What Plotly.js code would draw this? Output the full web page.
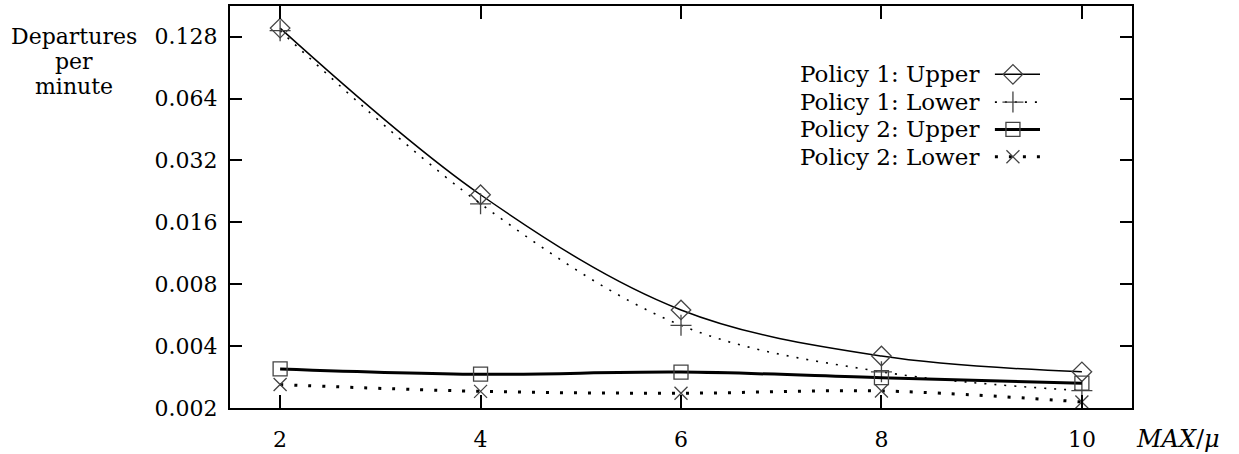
<!DOCTYPE html>
<html>
<head>
<meta charset="utf-8">
<script src="https://cdn.plot.ly/plotly-3.0.1.min.js"></script>
<style>html,body{margin:0;padding:0;background:#fff;}#chart{width:1239px;height:454px;}</style>
</head>
<body>
<div id="chart"></div>
<script>
const xValues = [2, 4, 6, 8, 10];
const policy1Upper = [0.141, 0.0218, 0.0060, 0.00358, 0.0030];
const policy1Lower = [0.137, 0.0197, 0.00505, 0.0030, 0.00243];
const policy2Upper = [0.0031, 0.00292, 0.00299, 0.00281, 0.00264];
const policy2Lower = [0.0026, 0.00241, 0.00236, 0.00242, 0.00214];
const seriesNames = ["Policy 1: Upper", "Policy 1: Lower", "Policy 2: Upper", "Policy 2: Lower"];
const yTitleLines = ["Departures", "per", "minute"];
const yTickVals = [0.002, 0.004, 0.008, 0.016, 0.032, 0.064, 0.128];
const yTickText = ["0.002", "0.004", "0.008", "0.016", "0.032", "0.064", "0.128"];
const xTickVals = [2, 4, 6, 8, 10];

const FONT = "DejaVu Serif, serif";
const mk = "#444";
const styles = [
  {line: {color: "#000", width: 1.5, shape: "spline"}, marker: {symbol: "diamond-open", size: 15, color: mk, line: {width: 1.3, color: mk}}},
  {line: {color: "#000", width: 1.6, dash: "2px,8px", shape: "spline"}, marker: {symbol: "cross-thin-open", size: 15, color: mk, line: {width: 1.3, color: mk}}},
  {line: {color: "#000", width: 3, shape: "spline"}, marker: {symbol: "square-open", size: 14, color: mk, line: {width: 1.3, color: mk}}},
  {line: {color: "#000", width: 3, dash: "3px,11px", shape: "spline"}, marker: {symbol: "x-thin-open", size: 13, color: mk, line: {width: 1.3, color: mk}}}
];
const allSeries = [policy1Upper, policy1Lower, policy2Upper, policy2Lower];

const traces = allSeries.map((ys, i) => ({
  x: xValues, y: ys, type: "scatter", mode: "lines+markers",
  name: seriesNames[i], line: styles[i].line, marker: styles[i].marker,
  showlegend: false, hoverinfo: "skip"
}));

// Custom legend samples (right side of labels), drawn on an overlay [0,1] axis pair
const legendRows = [0.830, 0.761, 0.693, 0.625];
const sampleX0 = 0.848, sampleX1 = 0.898, markX = 0.868;
legendRows.forEach((ry, i) => {
  const ln = Object.assign({}, styles[i].line); delete ln.shape;
  traces.push({x: [sampleX0, sampleX1], y: [ry, ry], xaxis: "x2", yaxis: "y2", type: "scatter", mode: "lines",
    line: ln, showlegend: false, hoverinfo: "skip"});
  traces.push({x: [markX], y: [ry], xaxis: "x2", yaxis: "y2", type: "scatter", mode: "markers",
    marker: styles[i].marker, showlegend: false, hoverinfo: "skip"});
});

const annotations = seriesNames.map((n, i) => ({
  xref: "paper", yref: "paper", x: 0.833, y: legendRows[i], xanchor: "right", yanchor: "middle",
  text: n, showarrow: false, font: {family: FONT, size: 23, color: "#000"}
}));
const titleRows = [0.923, 0.861, 0.799];
yTitleLines.forEach((t, i) => annotations.push({
  xref: "paper", yref: "paper", x: -0.173, y: titleRows[i], xanchor: "center", yanchor: "middle",
  text: t, showarrow: false, font: {family: FONT, size: 22, color: "#000"}
}));
annotations.push({
  xref: "paper", yref: "paper", x: 1.002, y: -0.078, xanchor: "left", yanchor: "middle",
  text: "<i>MAX</i>/<i>μ</i>", showarrow: false,
  font: {family: FONT, size: 24, color: "#000"}
});

const layout = {
  width: 1239, height: 454,
  margin: {l: 230, r: 107, t: 6, b: 46},
  paper_bgcolor: "#fff", plot_bgcolor: "#fff",
  font: {family: FONT, size: 22, color: "#000"},
  showlegend: false,
  xaxis: {
    range: [1.5, 10.5], tickvals: xTickVals, ticktext: xTickVals.map(String),
    showgrid: false, zeroline: false, showline: true, linecolor: "#000", linewidth: 2,
    mirror: "ticks", ticks: "inside", ticklen: 13, tickwidth: 2, tickcolor: "#000",
    ticklabelstandoff: 11, tickfont: {family: FONT, size: 22}
  },
  yaxis: {
    type: "log", range: [Math.log10(0.002), Math.log10(0.1806)],
    tickvals: yTickVals, ticktext: yTickText,
    showgrid: false, zeroline: false, showline: true, linecolor: "#000", linewidth: 2,
    mirror: "ticks", ticks: "inside", ticklen: 12, tickwidth: 2, tickcolor: "#000",
    ticklabelstandoff: 6, tickfont: {family: FONT, size: 22}
  },
  xaxis2: {overlaying: "x", range: [0, 1], visible: false, fixedrange: true},
  yaxis2: {overlaying: "y", range: [0, 1], visible: false, fixedrange: true},
  annotations: annotations
};

Plotly.newPlot("chart", traces, layout, {staticPlot: true, displayModeBar: false});
</script>
</body>
</html>
